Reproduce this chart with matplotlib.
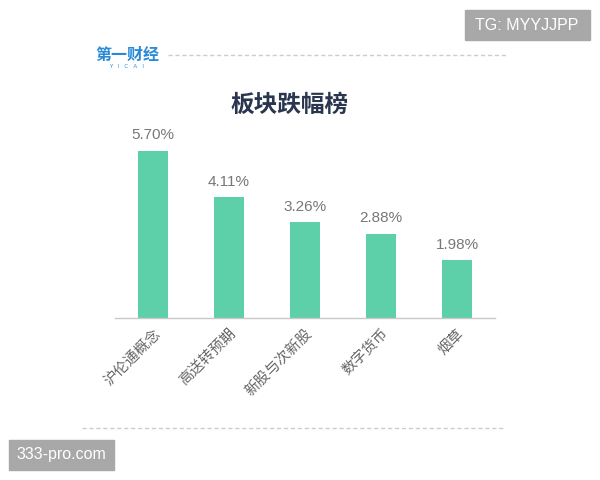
import matplotlib
matplotlib.use("Agg")
import matplotlib.pyplot as plt
from matplotlib.patches import Rectangle
from matplotlib.lines import Line2D

plt.rcParams['font.family'] = ['Noto Sans CJK SC', 'DejaVu Sans']

categories = ["沪伦通概念", "高送转预期", "新股与次新股", "数字货币", "烟草"]
values = [5.70, 4.11, 3.26, 2.88, 1.98]
value_labels = ["5.70%", "4.11%", "3.26%", "2.88%", "1.98%"]

W, H = 600, 480
fig = plt.figure(figsize=(6, 4.8), dpi=100)
fig.patch.set_facecolor("white")

def fx(px):
    return px / W

def fy(py):
    return 1 - py / H

# main axes
ax = fig.add_axes([fx(115), fy(318), fx(495 - 115), (318 - 142) / H])
x = range(len(categories))
ax.bar(x, values, width=0.4, color="#5dcfa9")
ax.set_xlim(-0.5, len(categories) - 0.5)
ax.set_ylim(0, 6.0)
for s in ["top", "right", "left"]:
    ax.spines[s].set_visible(False)
ax.spines["bottom"].set_color("#c8c8c8")
ax.spines["bottom"].set_linewidth(1.0)
ax.set_yticks([])
ax.set_xticks(list(x))
ax.set_xticklabels(categories, rotation=45, ha="right", va="top",
                   rotation_mode="anchor", fontsize=10.5, color="#666666")
ax.tick_params(axis="x", length=0, pad=6)
for i, (v, lab) in enumerate(zip(values, value_labels)):
    ax.annotate(lab, (i, v), xytext=(0, 6), textcoords="offset points",
                ha="center", va="bottom", fontsize=11, color="#777777",
                family=["Liberation Sans"])

# title
fig.text(fx(290), fy(105), "板块跌幅榜", ha="center", va="center",
         fontsize=17, fontweight="bold", color="#2a3650")

# logo
fig.text(fx(127), fy(55), "第一财经", ha="center", va="center",
         fontsize=11.5, fontweight="bold", color="#2a8ad6")
fig.text(fx(127), fy(66), "Y   I   C   A   I", ha="center", va="center",
         fontsize=4, color="#2a8ad6", family=["DejaVu Sans"])

# dashed lines
fig.add_artist(Line2D([fx(168), fx(508)], [fy(55), fy(55)], color="#cccccc",
                      lw=1, ls=(0, (3, 2)), transform=fig.transFigure))
fig.add_artist(Line2D([fx(82), fx(505)], [fy(428), fy(428)], color="#cccccc",
                      lw=1, ls=(0, (3, 2)), transform=fig.transFigure))

# watermark boxes
fig.add_artist(Rectangle((fx(465), fy(40)), fx(125), 30 / H, color="#a8a8a8",
                         transform=fig.transFigure))
fig.text(fx(527), fy(25), "TG: MYYJJPP", ha="center", va="center",
         fontsize=11.5, color="white", family=["Liberation Sans"])
fig.add_artist(Rectangle((fx(9), fy(470)), fx(105), 30 / H, color="#a8a8a8",
                         transform=fig.transFigure))
fig.text(fx(61), fy(455), "333-pro.com", ha="center", va="center",
         fontsize=11.5, color="white", family=["Liberation Sans"])

fig.savefig("out.png", dpi=100, facecolor="white")
